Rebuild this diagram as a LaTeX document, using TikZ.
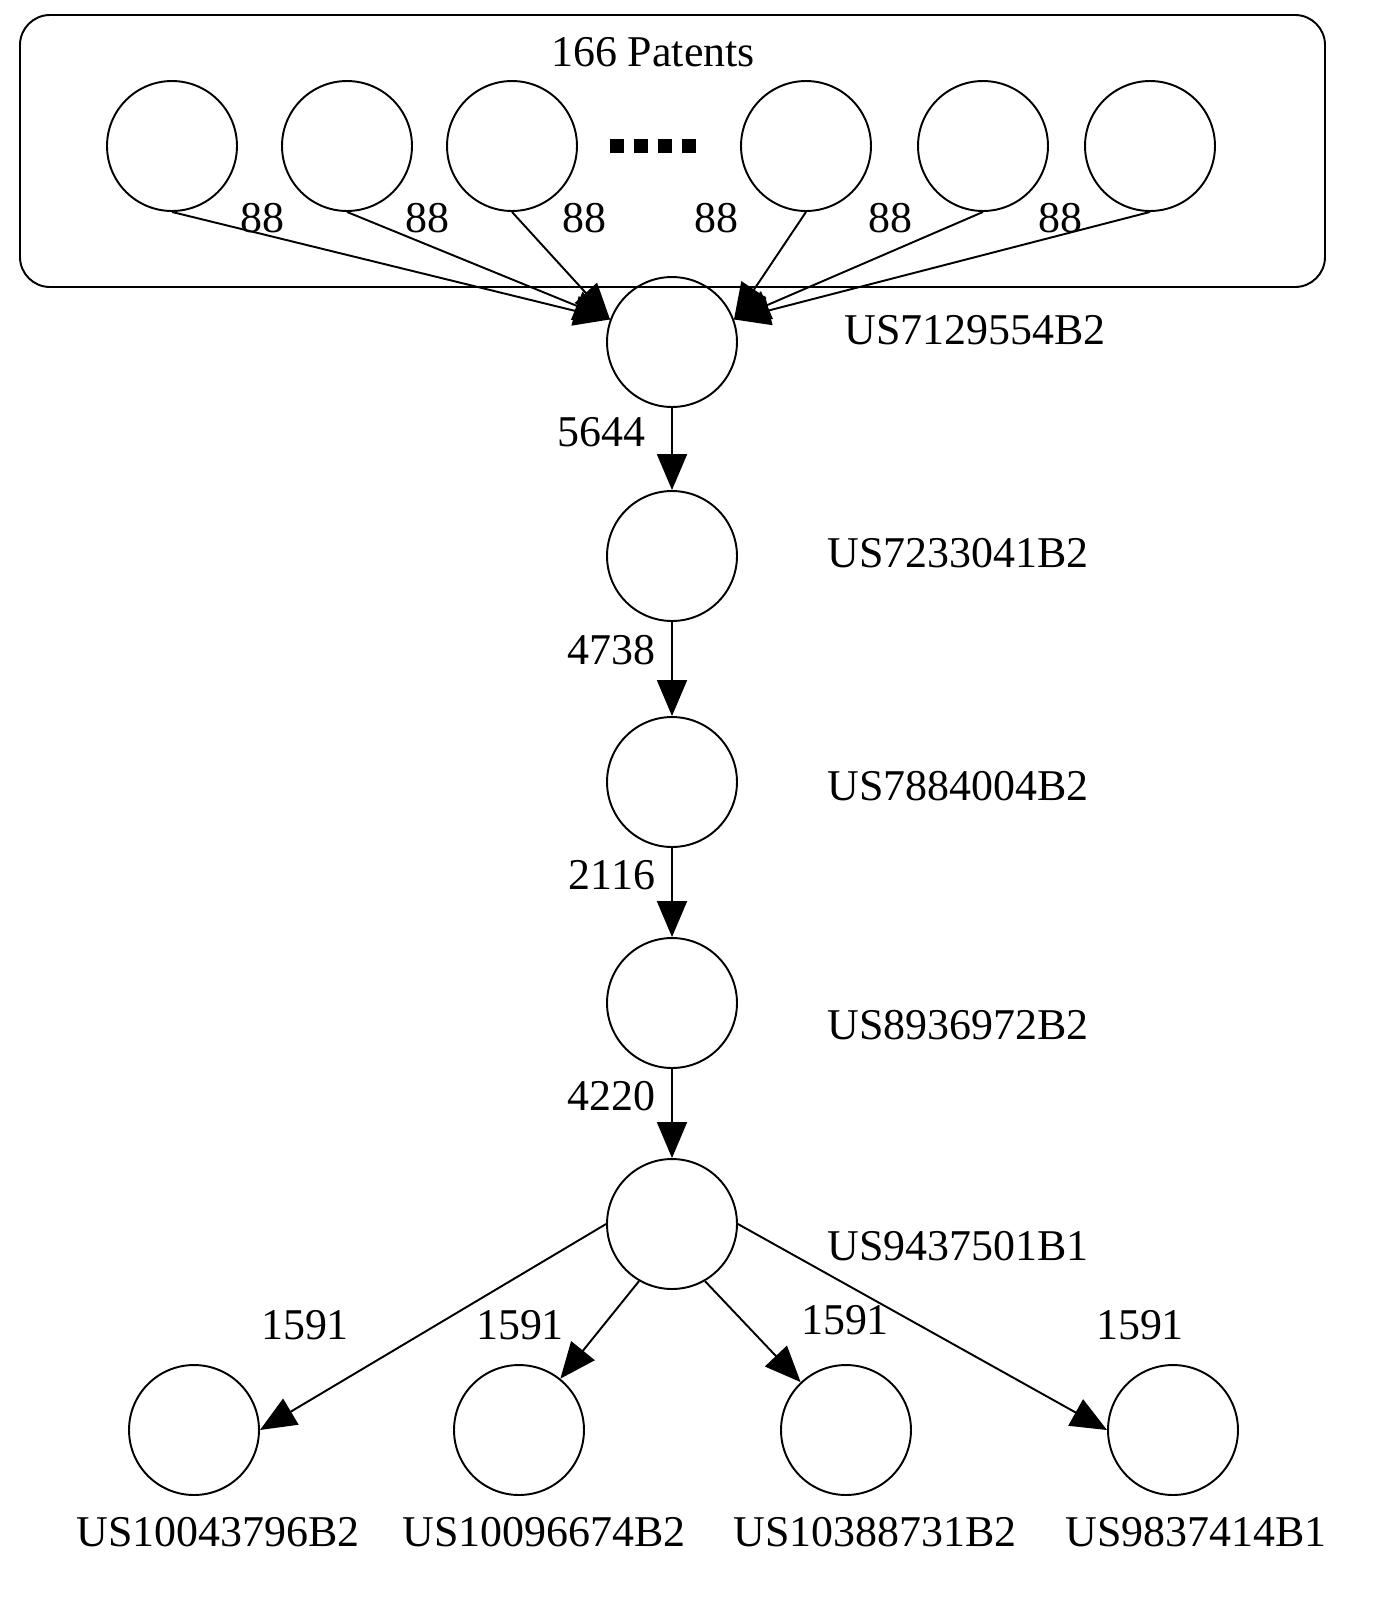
\documentclass[tikz,border=0pt]{standalone}
\usepackage{fontspec}
\setmainfont{Liberation Serif}
\usetikzlibrary{arrows.meta}
\tikzset{
  pat/.style={circle, draw, line width=1.1pt, minimum size=2.6cm, inner sep=0pt},
  lab/.style={font=\fontsize{25}{29}\selectfont},
  cite/.style={line width=1.1pt, -{Triangle[length=0.72cm, width=0.6cm]}}
}
\begin{document}
\begin{tikzpicture}[x=0.02cm, y=-0.02cm]
  \useasboundingbox (0,0) rectangle (1379,1610);

  % group of citing patents
  \draw[line width=1.1pt, rounded corners=0.6cm] (20,15) rectangle (1325,287);
  \node[lab] (grp) at (653,52) {166 Patents};
  \node[pat] (t1) at (172,146) {};
  \node[pat] (t2) at (347,146) {};
  \node[pat] (t3) at (512,146) {};
  \node[pat] (t4) at (806,146) {};
  \node[pat] (t5) at (983,146) {};
  \node[pat] (t6) at (1150,146) {};
  \foreach \x in {617,641,665,689}
    \fill (\x-7,139) rectangle (\x+7,153);

  % main path
  \node[pat] (c1) at (672,342) {};
  \node[pat] (c2) at (672,556) {};
  \node[pat] (c3) at (672,782) {};
  \node[pat] (c4) at (672,1003) {};
  \node[pat] (c5) at (672,1224) {};
  \node[lab] at (975,330) {US7129554B2};
  \node[lab] at (958,553) {US7233041B2};
  \node[lab] at (958,786) {US7884004B2};
  \node[lab] at (958,1025) {US8936972B2};
  \node[lab] at (958,1246) {US9437501B1};

  % cited patents
  \node[pat] (b1) at (194,1430) {};
  \node[pat] (b2) at (519,1430) {};
  \node[pat] (b3) at (846,1430) {};
  \node[pat] (b4) at (1173,1430) {};
  \node[lab] at (218,1532) {US10043796B2};
  \node[lab] at (544,1532) {US10096674B2};
  \node[lab] at (875,1532) {US10388731B2};
  \node[lab] at (1196,1532) {US9837414B1};

  % connectors
  \foreach \t/\x in {t1/262,t2/427,t3/584} {
    \draw[cite] (\t.south) -- (c1.160);
    \node[lab] at (\x,218) {88};
  }
  \foreach \t/\x in {t4/716,t5/890,t6/1060} {
    \draw[cite] (\t.south) -- (c1.20);
    \node[lab] at (\x,218) {88};
  }
  \draw[cite] (c1) -- (c2) node[lab, pos=0.3, left=0.4cm] {5644};
  \draw[cite] (c2) -- (c3) node[lab, pos=0.3, left=0.2cm] {4738};
  \draw[cite] (c3) -- (c4) node[lab, pos=0.3, left=0.2cm] {2116};
  \draw[cite] (c4) -- (c5) node[lab, pos=0.3, left=0.2cm] {4220};
  \draw[cite] (c5.west) -- (b1.east);
  \draw[cite] (c5.240) -- (b2);
  \draw[cite] (c5.300) -- (b3);
  \draw[cite] (c5.east) -- (b4.west);
  \node[lab] at (305,1325) {1591};
  \node[lab] at (520,1325) {1591};
  \node[lab] at (845,1320) {1591};
  \node[lab] at (1140,1325) {1591};
\end{tikzpicture}
\end{document}
